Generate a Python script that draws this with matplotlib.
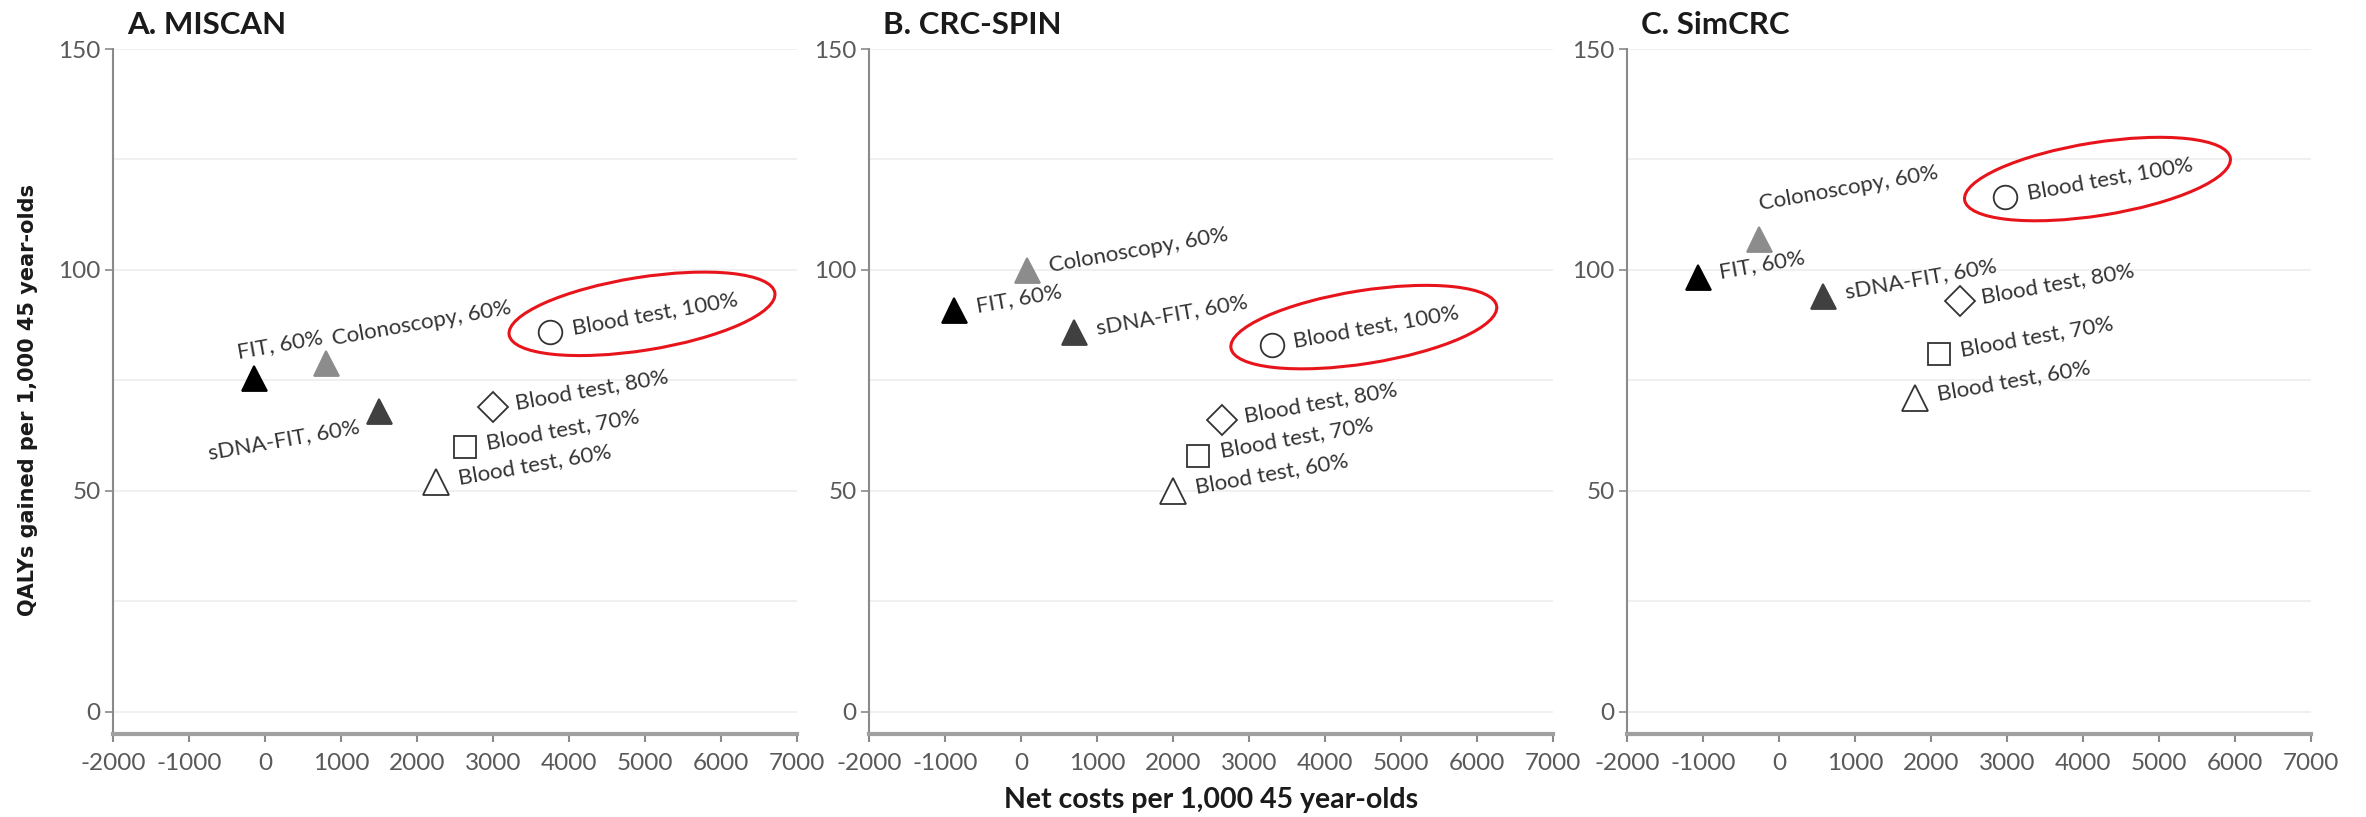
import matplotlib
matplotlib.use('Agg')
import matplotlib.pyplot as plt
from matplotlib.patches import Ellipse
from matplotlib.transforms import IdentityTransform

plt.rcParams['font.family'] = ['Lato', 'DejaVu Sans']
plt.rcParams['axes.unicode_minus'] = False

# data
models = ["A. MISCAN", "B. CRC-SPIN", "C. SimCRC"]
strategies = ["FIT, 60%", "Colonoscopy, 60%", "sDNA-FIT, 60%",
              "Blood test, 60%", "Blood test, 70%", "Blood test, 80%", "Blood test, 100%"]
miscan_costs = [-150, 800, 1500, 2250, 2630, 3000, 3750]
miscan_qalys = [75.5, 79, 68, 52, 60, 69, 86]
crcspin_costs = [-880, 80, 700, 2000, 2330, 2650, 3300]
crcspin_qalys = [91, 100, 86, 50, 58, 66, 83]
simcrc_costs = [-1070, -260, 580, 1790, 2100, 2380, 2980]
simcrc_qalys = [98.5, 107, 94, 71, 81, 93, 116.5]
highlight = "Blood test, 100%"

costs = [miscan_costs, crcspin_costs, simcrc_costs]
qalys = [miscan_qalys, crcspin_qalys, simcrc_qalys]

# marker, size, face, edge
styles = {
    "FIT, 60%": ('^', 18, 'black', 'black'),
    "Colonoscopy, 60%": ('^', 18, '#8c8c8c', '#8c8c8c'),
    "sDNA-FIT, 60%": ('^', 18, '#404040', '#404040'),
    "Blood test, 60%": ('^', 19, 'white', '#333333'),
    "Blood test, 70%": ('s', 16, 'white', '#333333'),
    "Blood test, 80%": ('D', 15, 'white', '#333333'),
    "Blood test, 100%": ('o', 17, 'white', '#333333'),
}

# label offsets in pixels (dx, dy, ha), default (22, 4, left)
label_pos = [
    {"FIT, 60%": (-16, 26, 'left'), "Colonoscopy, 60%": (6, 24, 'left'),
     "sDNA-FIT, 60%": (-20, -15, 'right')},
    {},
    {"Colonoscopy, 60%": (0, 35, 'left')},
]

W, H = 2366, 817
fig = plt.figure(figsize=(W / 100, H / 100), dpi=100)
lefts = [113, 869, 1627]
ax_w, ax_top, ax_bot = 684, 49, 734

axes = []
for i, name in enumerate(models):
    ax = fig.add_axes([lefts[i] / W, (H - ax_bot) / H, ax_w / W, (ax_bot - ax_top) / H])
    ax.set_xlim(-2000, 7000)
    ax.set_ylim(-5, 150)
    ax.set_autoscale_on(False)
    ax.set_xticks(range(-2000, 7001, 1000))
    ax.set_yticks([0, 50, 100, 150])
    ax.set_yticks([25, 75, 125], minor=True)
    ax.grid(axis='y', which='both', color='#efefef', lw=1.3)
    ax.set_axisbelow(True)
    for s in ['top', 'right']:
        ax.spines[s].set_visible(False)
    ax.spines['left'].set_color('#8a8a8a')
    ax.spines['left'].set_linewidth(1.5)
    ax.spines['bottom'].set_color('#a0a0a0')
    ax.spines['bottom'].set_linewidth(3)
    ax.tick_params(axis='x', length=6, width=1.5, color='#8a8a8a', labelsize=17.5,
                   labelcolor='#595959', pad=8)
    ax.tick_params(axis='y', which='major', length=6, width=1.2, color='#8a8a8a',
                   labelsize=17.5, labelcolor='#595959', pad=3)
    ax.tick_params(axis='y', which='minor', length=0)

    ax.annotate(name, xy=(0, 1), xycoords='axes fraction', xytext=(14, 15),
                textcoords='offset pixels', fontsize=22.5, fontweight='bold',
                color='#1a1a1a', ha='left', va='baseline', annotation_clip=False)

    for j, strat in enumerate(strategies):
        mk, ms, fc, ec = styles[strat]
        ax.plot(costs[i][j], qalys[i][j], ls='none', marker=mk, ms=ms, mfc=fc, mec=ec,
                mew=1.3, zorder=3, clip_on=False)
        dx, dy, ha = label_pos[i].get(strat, (22, 4, 'left'))
        ax.annotate(strat, xy=(costs[i][j], qalys[i][j]), xytext=(dx, dy),
                    textcoords='offset pixels', rotation=10, rotation_mode='anchor',
                    ha=ha, va='center', fontsize=16, color='#333333')
    axes.append(ax)

# red ellipses round the 100% blood test label
for i, ax in enumerate(axes):
    j = strategies.index(highlight)
    px, py = ax.transData.transform((costs[i][j], qalys[i][j]))
    e = Ellipse((px + 92, py + 18), 269, 73, angle=9, fill=False,
                edgecolor='#e8141b', lw=2.2, transform=IdentityTransform())
    fig.add_artist(e)

fig.text(28 / W, (H - 400) / H, "QALYs gained per 1,000 45 year-olds", rotation=90,
         family='DejaVu Sans', fontweight='bold', fontsize=15, color='#1a1a1a',
         ha='center', va='center')
fig.text((lefts[1] + ax_w / 2) / W, (H - 808) / H, "Net costs per 1,000 45 year-olds",
         fontweight='bold', fontsize=20.5, color='#1a1a1a', ha='center', va='baseline')

fig.savefig('out.png', dpi=100)
